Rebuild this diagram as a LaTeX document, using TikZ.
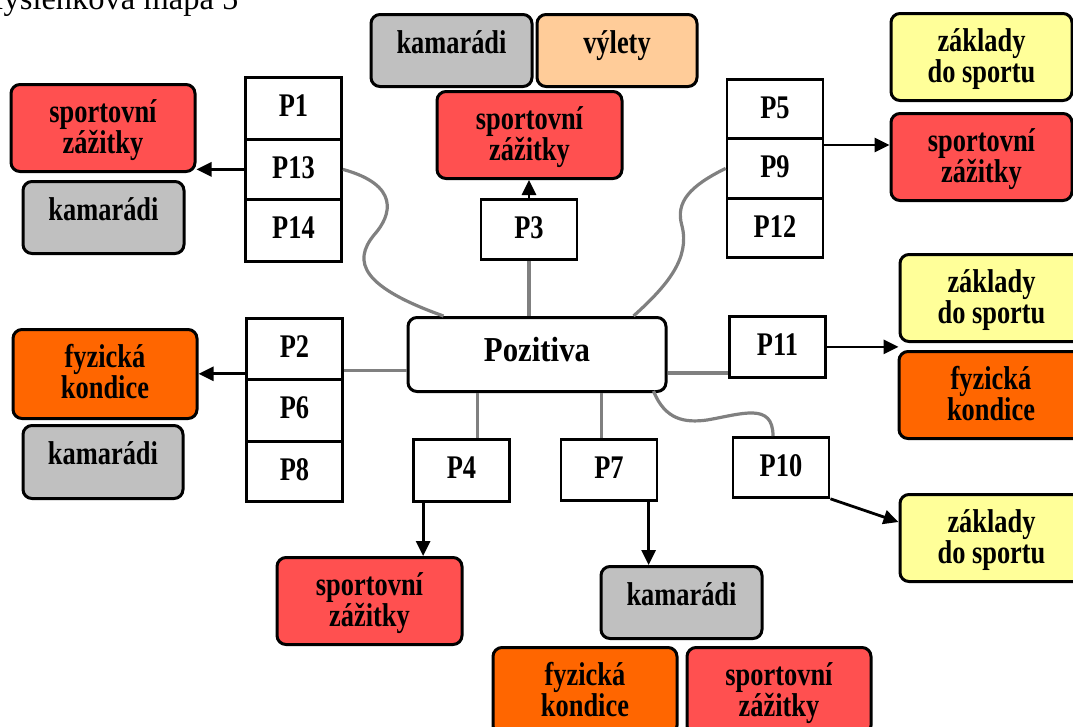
\documentclass[tikz,border=0pt]{standalone}
\usepackage{fontspec}
\setmainfont{Liberation Serif}
\newfontfamily\boxfont[FakeStretch=0.8]{Liberation Serif}
\newfontfamily\centrefont[FakeStretch=0.88]{Liberation Serif}
\usetikzlibrary{arrows.meta,calc}

\definecolor{redc}{HTML}{FF5050}
\definecolor{orangec}{HTML}{FF6600}
\definecolor{greyc}{HTML}{C0C0C0}
\definecolor{peachc}{HTML}{FFCC99}
\definecolor{yellowc}{HTML}{FFFF99}
\definecolor{linkc}{HTML}{808080}

\tikzset{
  card/.style={draw=black, line width=3pt, rounded corners=9pt, inner sep=0pt,
    align=center, text height=39pt, anchor=north,
    font=\boxfont\bfseries\fontsize{33}{30}\selectfont},
  twoline/.style={text height=69pt},
  pbox/.style={draw=black, line width=2.8pt, fill=white, inner sep=0pt,
    align=center, text height=39pt, anchor=north, minimum width=96pt,
    font=\boxfont\bfseries\fontsize{33}{30}\selectfont},
  link/.style={draw=linkc, line width=3.2pt},
  arr/.style={draw=black, line width=2.8pt, -{Triangle[length=15pt,width=14pt]}},
}

\begin{document}
\begin{tikzpicture}[x=1pt,y=-1pt]
\useasboundingbox (0,0) rectangle (1073,726);
\clip (0,0) rectangle (1073,726);

% heading, partly above the page edge
\node[anchor=base east, inner sep=0pt, font=\fontsize{32.5}{36}\selectfont] (title) at (238.5,9) {Myšlenková mapa 5};

% central node
\node[card, minimum width=258pt, text height=44pt, text depth=30pt,
  font=\centrefont\bfseries\fontsize{35}{36}\selectfont] (poz) at (537,316) {Pozitiva};

% left upper group
\node[card, twoline, fill=redc, minimum width=184pt, text depth=18pt] (red1) at (103,83) {sportovní\\zážitky};
\node[card, fill=greyc, minimum width=161pt, text depth=33pt] (gray1) at (103.5,180) {kamarádi};
\node[pbox, text depth=23pt] (p1) at (293.5,76) {P1};
\node[pbox, text depth=21pt] (p13) at (293.5,138) {P13};
\node[pbox, text depth=23pt] (p14) at (293.5,198) {P14};

% left lower group
\node[card, twoline, fill=orangec, minimum width=184pt, text depth=20pt] (orange1) at (105,328) {fyzická\\kondice};
\node[card, fill=greyc, minimum width=160pt, text depth=34pt] (gray2) at (103,424) {kamarádi};
\node[pbox, text depth=22pt] (p2) at (294.5,317) {P2};
\node[pbox, text depth=23pt] (p6) at (294.5,378) {P6};
\node[pbox, text depth=21pt] (p8) at (294.5,440) {P8};

% top group
\node[card, fill=greyc, minimum width=161pt, text depth=33pt] (gray3) at (451.5,13) {kamarádi};
\node[card, fill=peachc, minimum width=160pt, text depth=33pt] (peach) at (617,13) {výlety};
\node[card, twoline, fill=redc, minimum width=185pt, text depth=18pt] (red2) at (529.5,90) {sportovní\\zážitky};
\node[pbox, text depth=21pt] (p3) at (529,198) {P3};

% right upper group
\node[pbox, text depth=20pt] (p5) at (775,78) {P5};
\node[pbox, text depth=21pt] (p9) at (775,137) {P9};
\node[pbox, text depth=20pt] (p12) at (775,197) {P12};
\node[card, twoline, fill=yellowc, minimum width=181pt, text depth=18pt] (yellow1) at (981.5,12) {základy\\do sportu};
\node[card, twoline, fill=redc, minimum width=181pt, text depth=18pt] (red3) at (981.5,112) {sportovní\\zážitky};

% right middle group
\node[pbox, text depth=22pt] (p11) at (777.5,315) {P11};
\node[card, twoline, fill=yellowc, minimum width=183pt, text depth=18pt] (yellow2) at (991.5,253) {základy\\do sportu};
\node[card, twoline, fill=orangec, minimum width=184pt, text depth=18pt] (orange2) at (991,350) {fyzická\\kondice};

% lower row
\node[pbox, text depth=23pt] (p4) at (461.5,438) {P4};
\node[pbox, text depth=22pt] (p7) at (609,438) {P7};
\node[pbox, text depth=21pt] (p10) at (781,436) {P10};
\node[card, twoline, fill=yellowc, minimum width=183pt, text depth=18pt] (yellow3) at (991.5,493) {základy\\do sportu};
\node[card, twoline, fill=redc, minimum width=185pt, text depth=18pt] (red4) at (369.5,556) {sportovní\\zážitky};
\node[card, fill=greyc, minimum width=161pt, text depth=33pt] (gray4) at (681.5,565) {kamarádi};
\node[card, twoline, fill=orangec, minimum width=184pt, text depth=18pt] (orange3) at (585,646) {fyzická\\kondice};
\node[card, twoline, fill=redc, minimum width=184pt, text depth=18pt] (red5) at (779,646) {sportovní\\zážitky};

% grey links to the central node
\draw[link] (p13.east) .. controls (400,185) and (392,215) .. (374,235)
  .. controls (352,262) and (362,287) .. ($(poz.north west)+(37,0)$);
\draw[link] (p9.west) .. controls (690,186) and (675,202) .. (682,226)
  .. controls (690,258) and (668,285) .. ($(poz.north east)+(-34,0)$);
\draw[link] (p3.south) -- (p3.south |- poz.north);
\coordinate (p2link) at ($(p2.south east)+(0,-10)$);
\draw[link] (p2link) -- (p2link -| poz.west);
\coordinate (p11link) at ($(poz.south east)+(0,-20)$);
\draw[link] (p11link) -- (p11link -| p11.west);
\coordinate (p4link) at ($(poz.south west)+(71,0)$);
\draw[link] (p4link) -- (p4link |- p4.north);
\coordinate (p7link) at ($(poz.south west)+(195,0)$);
\draw[link] (p7link) -- (p7link |- p7.north);
\draw[link] ($(poz.south east)+(-14,-2)$) .. controls (665,420) and (685,423) .. (707,420)
  .. controls (742,414) and (773,402) .. (p10.north -| 773,0);

% arrows to the outcome boxes
\draw[arr] (p13.west) -- (p13.west -| red1.east);
\coordinate (p2arr) at ($(p2.south west)+(0,-7)$);
\draw[arr] (p2arr) -- (p2arr -| orange1.east);
\draw[arr] (p3.north) -- (p3.north |- red2.south);
\coordinate (p9arr) at ($(p9.north east)+(0,8)$);
\draw[arr] (p9arr) -- (p9arr -| red3.west);
\draw[arr] (p11.east) -- (p11.east -| yellow2.west);
\coordinate (p4arr) at ($(p4.south west)+(11,0)$);
\draw[arr] (p4arr) -- (p4arr |- red4.north);
\coordinate (p7arr) at ($(p7.south west)+(89,0)$);
\draw[arr] (p7arr) -- (p7arr |- gray4.north);
\draw[arr] (p10.south east) -- ($(yellow3.north west)+(0,29)$);
\end{tikzpicture}
\end{document}
